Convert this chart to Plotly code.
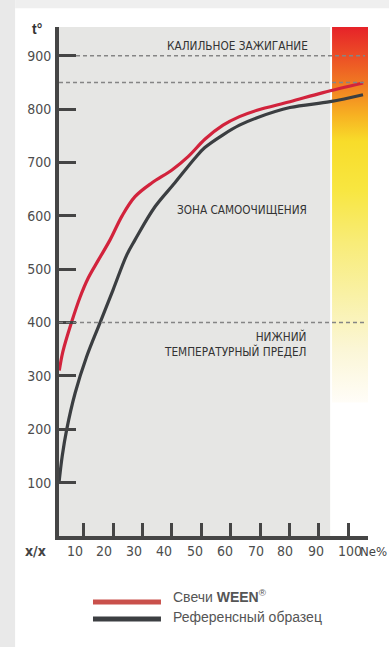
import plotly.graph_objects as go

# ---------------- data ----------------
ween_x = [1.6, 2.8, 5.8, 8.7, 11.5, 14.9, 18.9, 23.0, 27.4, 33.2, 40.0, 45.5, 51.3, 57.4, 63.0, 69.0, 80.2, 91.5, 105.1]
ween_y = [310, 345, 401, 448, 484, 517, 555, 600, 636, 662, 686, 711, 744, 770, 786, 798, 814, 831, 849]

ref_x = [1.5, 2.6, 4.1, 7.0, 10.9, 15.5, 19.9, 24.6, 27.4, 34.2, 41.0, 47.8, 51.2, 57.4, 63.0, 69.0, 80.2, 93.9, 105.1]
ref_y = [100, 150, 199, 268, 336, 400, 461, 527, 555, 617, 662, 708, 728, 752, 770, 784, 803, 814, 827]

y_ticks = [100, 200, 300, 400, 500, 600, 700, 800, 900]
x_ticks = [10, 20, 30, 40, 50, 60, 70, 80, 90, 100]
x_tick_labels = ["10", "20", "30", "40", "50", "60", "70", "80", "90", "100"]

glow_limit = 900      # калильное зажигание
upper_limit = 850
lower_limit = 400     # нижний температурный предел

series_names = ["Свечи <b>WEEN</b><sup>®</sup>", "Референсный образец"]

# ---------------- style / layout constants ----------------
X0, X1 = 1.5, 106.8
Y0, Y1 = 0, 954
GRAY_END = 93.9
BAR_X0, BAR_X1 = 94.55, 106.8
LINE_END = 105.8
# label centres are slightly shifted from the tick marks in the original
x_label_pos = [6.8, 17.0, 27.2, 37.3, 47.7, 58.1, 68.6, 78.5, 89.1, 100.5]
LABEL_Y = -0.0295   # paper units below the x axis

NARROW = "Liberation Sans Narrow, DejaVu Sans Condensed, Arial Narrow, sans-serif"
SANS = "Liberation Sans, Arial, sans-serif"
RED = "#d2233c"
DARK = "#3b3e41"
AXIS = "#454545"

fig = go.Figure()

# heat gradient bar
fig.add_trace(go.Scatter(
    x=[BAR_X0, BAR_X1, BAR_X1, BAR_X0, BAR_X0],
    y=[250, 250, Y1, Y1, 250],
    mode="lines", line=dict(width=0), fill="toself",
    fillgradient=dict(
        type="vertical", start=250, stop=Y1,
        colorscale=[
            [0.0, "#fffdf8"], [0.142, "#fbf6d6"], [0.284, "#f9f1a6"],
            [0.426, "#f8ec78"], [0.568, "#f8e640"], [0.696, "#f8dc2a"],
            [0.767, "#f7b022"], [0.852, "#f07822"], [0.923, "#ec4e26"],
            [1.0, "#e62229"],
        ],
    ),
    hoverinfo="skip", showlegend=False,
))

fig.add_trace(go.Scatter(x=ref_x, y=ref_y, mode="lines", name=series_names[1],
                         line=dict(color=DARK, width=3.2, shape="spline", smoothing=1.0),
                         showlegend=False))
fig.add_trace(go.Scatter(x=ween_x, y=ween_y, mode="lines", name=series_names[0],
                         line=dict(color=RED, width=3.2, shape="spline", smoothing=1.0),
                         showlegend=False))

shapes = [
    # gray zone
    dict(type="rect", xref="x", yref="y", x0=X0, x1=GRAY_END, y0=Y0, y1=Y1,
         fillcolor="#e6e6e4", line=dict(width=0), layer="below"),
    # dashed limits
    dict(type="line", xref="x", yref="y", x0=7.3, x1=LINE_END, y0=glow_limit, y1=glow_limit,
         line=dict(color="#858585", width=1.5, dash="4px,3px"), layer="above"),
    dict(type="line", xref="x", yref="y", x0=X0, x1=LINE_END, y0=upper_limit, y1=upper_limit,
         line=dict(color="#858585", width=1.5, dash="4px,3px"), layer="above"),
    dict(type="line", xref="x", yref="y", x0=X0, x1=LINE_END, y0=lower_limit, y1=lower_limit,
         line=dict(color="#858585", width=1.5, dash="4px,3px"), layer="above"),
    # page frame strips
    dict(type="rect", xref="paper", yref="paper", x0=-0.191, x1=-0.142, y0=-0.22, y1=1.06,
         fillcolor="#e9e9e9", line=dict(width=0), layer="below"),
    dict(type="rect", xref="paper", yref="paper", x0=-0.142, x1=1.07, y0=1.037, y1=1.06,
         fillcolor="#efefef", line=dict(width=0), layer="below"),
    # legend swatches
    dict(type="line", xref="paper", yref="paper", x0=0.110, x1=0.330, y0=-0.1297, y1=-0.1297,
         line=dict(color="#c9504b", width=5)),
    dict(type="line", xref="paper", yref="paper", x0=0.110, x1=0.330, y0=-0.163, y1=-0.163,
         line=dict(color="#3c3f42", width=5)),
]

annotations = []
for pos, lab in zip(x_label_pos, x_tick_labels):
    annotations.append(dict(x=pos, y=LABEL_Y, xref="x", yref="paper", text=lab, showarrow=False,
                            font=dict(family=NARROW, size=14, color="#4d4d4d"),
                            xanchor="center", yanchor="middle"))
annotations += [
    dict(x=-0.076, y=LABEL_Y, xref="paper", yref="paper", text="<b>x/x</b>", showarrow=False,
         font=dict(family=NARROW, size=14, color="#444"), xanchor="center", yanchor="middle"),
    dict(x=0.972, y=LABEL_Y, xref="paper", yref="paper", text="Ne%", showarrow=False,
         font=dict(family=NARROW, size=13, color="#444"), xanchor="left", yanchor="middle",
         borderpad=0),
    dict(x=-0.07, y=950, xref="paper", yref="y", text="<b>t°</b>", showarrow=False,
         font=dict(family=SANS, size=14, color="#333"), xanchor="center", yanchor="middle"),
    dict(x=62.2, y=919, xref="x", yref="y", text="КАЛИЛЬНОЕ ЗАЖИГАНИЕ", showarrow=False,
         font=dict(family=NARROW, size=11.7, color="#333"), xanchor="center", yanchor="middle"),
    dict(x=63.9, y=611, xref="x", yref="y", text="ЗОНА САМООЧИЩЕНИЯ", showarrow=False,
         font=dict(family=NARROW, size=11.7, color="#333"), xanchor="center", yanchor="middle"),
    dict(x=86.4, y=360, xref="x", yref="y", text="НИЖНИЙ<br>ТЕМПЕРАТУРНЫЙ ПРЕДЕЛ", showarrow=False,
         font=dict(family=NARROW, size=11.7, color="#333"), xanchor="right", yanchor="middle",
         align="right"),
    dict(x=0.366, y=-0.117, xref="paper", yref="paper", text=series_names[0], showarrow=False,
         font=dict(family=SANS, size=14, color="#555"), xanchor="left", yanchor="middle",
         borderpad=0),
    dict(x=0.366, y=-0.159, xref="paper", yref="paper", text=series_names[1], showarrow=False,
         font=dict(family=SANS, size=14, color="#555"), xanchor="left", yanchor="middle",
         borderpad=0),
]

fig.update_layout(
    width=389, height=647,
    margin=dict(l=59, r=21, t=27, b=111, pad=0, autoexpand=False),
    paper_bgcolor="white", plot_bgcolor="white",
    showlegend=False,
    shapes=shapes, annotations=annotations,
    xaxis=dict(range=[X0, X1], tickvals=x_ticks, showticklabels=False,
               ticks="inside", ticklen=13, tickwidth=3, tickcolor=AXIS,
               showline=True, linewidth=4, linecolor=AXIS, automargin=False,
               showgrid=False, zeroline=False, fixedrange=True),
    yaxis=dict(range=[Y0, Y1], tickvals=y_ticks,
               ticks="inside", ticklen=17, tickwidth=3, tickcolor=AXIS,
               tickfont=dict(family=NARROW, size=14, color="#4d4d4d"),
               ticklabelstandoff=1, automargin=False,
               showline=True, linewidth=4, linecolor=AXIS,
               showgrid=False, zeroline=False, fixedrange=True),
)

fig.write_html("out.html", config={"displayModeBar": False},
               post_script="document.body.style.margin='0';")
